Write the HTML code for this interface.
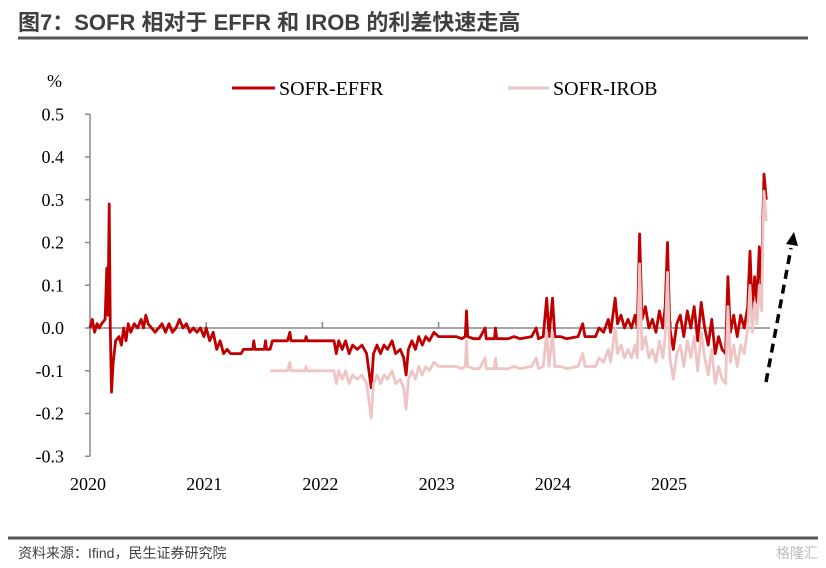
<!DOCTYPE html>
<html><head><meta charset="utf-8"><style>
html,body{margin:0;padding:0;background:#fff;}
body{width:826px;height:568px;position:relative;overflow:hidden;}
.title{position:absolute;left:18px;top:5px;font:bold 22px "Liberation Sans","Noto Sans CJK SC",sans-serif;color:#404040;}
.src{position:absolute;left:18px;top:543px;font:14px "Liberation Sans","Noto Sans CJK SC",sans-serif;color:#404040;}
.wm{position:absolute;right:8px;top:543px;font:14px "Liberation Sans","Noto Sans CJK SC",sans-serif;color:#bbb;}
</style></head><body>
<div class="title">图7：SOFR 相对于 EFFR 和 IROB 的利差快速走高</div>
<div class="src">资料来源：Ifind，民生证券研究院</div>
<div class="wm">格隆汇</div>
<svg id="chart" width="826" height="568" style="position:absolute;left:0;top:0">
<line x1="18" y1="38" x2="808" y2="38" stroke="#555" stroke-width="3"/>
<line x1="8" y1="538" x2="818" y2="538" stroke="#555" stroke-width="3"/>
</svg>
<script>
const dates=[2020.00,2020.02,2020.04,2020.06,2020.08,2020.10,2020.13,2020.145,2020.155,2020.165,2020.175,2020.185,2020.20,2020.22,2020.25,2020.27,2020.29,2020.31,2020.33,2020.35,2020.38,2020.41,2020.44,2020.46,2020.48,2020.50,2020.53,2020.56,2020.59,2020.62,2020.65,2020.68,2020.71,2020.74,2020.77,2020.80,2020.83,2020.86,2020.89,2020.92,2020.95,2020.98,2021.00,2021.03,2021.06,2021.09,2021.12,2021.15,2021.18,2021.21,2021.30,2021.32,2021.40,2021.41,2021.42,2021.50,2021.51,2021.52,
2021.55,2021.57,2021.70,2021.72,2021.73,2021.85,2021.86,2021.87,2022.10,2022.12,2022.14,2022.17,2022.20,2022.23,2022.26,2022.30,2022.34,2022.38,2022.40,2022.42,2022.44,2022.47,2022.50,2022.53,2022.56,2022.60,2022.63,2022.67,2022.70,2022.72,2022.74,2022.77,2022.80,2022.83,2022.86,2022.89,2022.92,2022.96,2023.00,2023.05,2023.10,2023.15,2023.20,2023.23,2023.24,2023.25,2023.30,2023.35,2023.40,2023.41,2023.48,2023.49,2023.50,2023.60,2023.65,2023.70,2023.80,2023.84,2023.86,2023.90,2023.93,2023.95,2023.98,2024.00,2024.05,2024.10,2024.20,2024.24,2024.26,2024.35,2024.38,2024.42,2024.46,2024.48,2024.52,2024.54,2024.57,2024.60,2024.63,2024.66,2024.69,2024.71,2024.73,2024.75,2024.78,2024.81,2024.84,2024.87,2024.90,2024.93,2024.95,2024.97,2024.99,2025.02,2025.05,2025.08,2025.11,2025.14,2025.17,2025.20,2025.23,2025.26,2025.29,2025.32,2025.35,2025.38,2025.41,2025.44,2025.47,2025.49,2025.51,2025.54,2025.57,2025.60,2025.63,2025.66,2025.68,2025.70,2025.72,2025.74,2025.76,2025.78,2025.79,2025.80,2025.82];
const sofrEffr=[0.0,0.02,-0.01,0.01,0.0,0.01,0.02,0.14,0.03,0.29,0.0,-0.15,-0.08,-0.03,-0.02,-0.04,0.0,-0.03,0.01,-0.01,0.01,0.0,0.02,0.0,0.03,0.01,0.0,-0.01,0.0,0.01,-0.01,0.01,-0.01,0.0,0.02,0.0,0.01,-0.01,0.0,-0.01,0.0,-0.02,0.0,-0.03,-0.01,-0.05,-0.03,-0.06,-0.05,-0.06,-0.06,-0.05,-0.05,-0.03,-0.05,-0.05,-0.03,-0.05,
-0.05,-0.03,-0.03,-0.01,-0.03,-0.03,-0.02,-0.03,-0.03,-0.06,-0.03,-0.05,-0.03,-0.06,-0.04,-0.05,-0.04,-0.06,-0.10,-0.14,-0.06,-0.04,-0.06,-0.04,-0.05,-0.03,-0.06,-0.05,-0.07,-0.11,-0.05,-0.03,-0.05,-0.02,-0.04,-0.02,-0.03,-0.01,-0.02,-0.02,-0.02,-0.02,-0.025,-0.02,0.04,-0.02,-0.025,-0.025,0.0,-0.025,-0.025,0.0,-0.025,-0.025,-0.02,-0.025,-0.02,0.0,-0.025,-0.02,0.07,-0.02,0.07,-0.02,-0.02,-0.025,-0.02,0.01,-0.02,-0.02,0.0,-0.01,0.02,-0.01,0.07,0.01,0.03,0.0,0.02,0.0,0.03,0.0,0.22,0.02,0.05,0.0,0.02,-0.01,0.04,0.0,0.05,0.2,0.0,-0.05,0.01,0.03,-0.02,0.04,0.0,0.05,-0.03,0.06,0.0,-0.04,0.02,-0.06,-0.02,-0.05,-0.06,0.12,-0.01,0.03,-0.02,0.03,0.0,0.05,0.18,0.04,0.12,0.06,0.19,0.08,0.25,0.36,0.30];
const irobStart=2021.55;
const sofrIrob=[-0.10,-0.10,-0.10,-0.08,-0.10,-0.10,-0.09,-0.10,-0.10,-0.13,-0.10,-0.12,-0.10,-0.13,-0.11,-0.12,-0.11,-0.13,-0.17,-0.21,-0.13,-0.11,-0.13,-0.11,-0.12,-0.10,-0.13,-0.12,-0.14,-0.19,-0.12,-0.10,-0.12,-0.09,-0.11,-0.09,-0.10,-0.08,-0.09,-0.09,-0.09,-0.09,-0.095,-0.09,-0.03,-0.09,-0.095,-0.095,-0.07,-0.095,-0.095,-0.07,-0.095,-0.095,-0.09,-0.095,-0.09,-0.07,-0.095,-0.09,-0.01,-0.09,-0.01,-0.09,-0.09,-0.095,-0.09,-0.06,-0.09,-0.09,-0.07,-0.08,-0.05,-0.08,0.0,-0.06,-0.04,-0.07,-0.05,-0.07,-0.04,-0.07,0.15,-0.05,-0.02,-0.07,-0.05,-0.08,-0.03,-0.07,-0.02,0.13,-0.07,-0.12,-0.06,-0.04,-0.09,-0.03,-0.07,-0.02,-0.10,-0.01,-0.07,-0.11,-0.05,-0.13,-0.09,-0.12,-0.13,0.05,-0.08,-0.04,-0.09,-0.04,-0.06,0.0,0.10,-0.01,0.06,0.01,0.10,0.04,0.20,0.32,0.25];
const yTicks=[0.5,0.4,0.3,0.2,0.1,0.0,-0.1,-0.2,-0.3];
const yTickLabels=["0.5","0.4","0.3","0.2","0.1","0.0","-0.1","-0.2","-0.3"];
const xYears=[2020,2021,2022,2023,2024,2025];

const NS="http://www.w3.org/2000/svg";
const svg=document.getElementById('chart');
const X0=90,PXY=116.2,Y0=328,PXV=427.5;
function xs(t){return X0+(t-2020)*PXY;}
function ys(v){return Y0-v*PXV;}
function mk(tag,attrs){const e=document.createElementNS(NS,tag);for(const k in attrs)e.setAttribute(k,attrs[k]);svg.appendChild(e);return e;}

let ax=mk('line',{x1:X0,y1:ys(0.5),x2:X0,y2:ys(-0.3),stroke:'#888','stroke-width':1.5});


yTicks.forEach((v,i)=>{
  const tk=mk('line',{x1:X0-5,y1:ys(v),x2:X0,y2:ys(v),stroke:'#888','stroke-width':1.5});
  
  
  const tx=mk('text',{x:X0-26,y:ys(v)+6,'text-anchor':'end','font-family':'Liberation Serif, serif','font-size':18,fill:'#000'});
  tx.textContent=yTickLabels[i];
  
  
});
let unit=mk('text',{x:47,y:87,'font-family':'Liberation Serif, serif','font-size':18,fill:'#000'});
unit.textContent='%';


let zl=mk('line',{x1:X0,y1:ys(0),x2:770,y2:ys(0),stroke:'#888','stroke-width':1.5});


xYears.forEach(yr=>{
  if(yr>2020){
    const tk=mk('line',{x1:xs(yr),y1:ys(0)-6,x2:xs(yr),y2:ys(0),stroke:'#888','stroke-width':1.5});
    
    
  }
  const tx=mk('text',{x:xs(yr)-2,y:490,'text-anchor':'middle','font-family':'Liberation Serif, serif','font-size':18,fill:'#000'});
  tx.textContent=String(yr);
  
  
});
function path(ds,vs){return ds.map((d,i)=>(i?'L':'M')+xs(d).toFixed(1)+','+ys(vs[i]).toFixed(1)).join('');}
let p1=mk('path',{d:path(dates,sofrEffr),fill:'none',stroke:'#c00000','stroke-width':2.8,'stroke-linejoin':'round'});


const irobDates=dates.filter(d=>d>=irobStart);
const n=Math.min(irobDates.length,sofrIrob.length);
let p2=mk('path',{d:path(irobDates.slice(0,n),sofrIrob.slice(0,n)),fill:'none',stroke:'#efc4c4','stroke-width':2.8,'stroke-linejoin':'round'});


let l1=mk('line',{x1:232,y1:88,x2:275,y2:88,stroke:'#c00000','stroke-width':3});


let t1=mk('text',{x:279,y:95,'font-family':'Liberation Serif, serif','font-size':20,fill:'#000'});
t1.textContent='SOFR-EFFR';


let l2=mk('line',{x1:508,y1:88,x2:549,y2:88,stroke:'#efc4c4','stroke-width':3});


let t2=mk('text',{x:553,y:95,'font-family':'Liberation Serif, serif','font-size':20,fill:'#000'});
t2.textContent='SOFR-IROB';


let ar=mk('line',{x1:766,y1:382,x2:791,y2:248,stroke:'#000','stroke-width':3.5,'stroke-dasharray':'9,6'});


let ah=mk('polygon',{points:'786,244 798,246 794,232',fill:'#000'});


</script>
</body></html>
